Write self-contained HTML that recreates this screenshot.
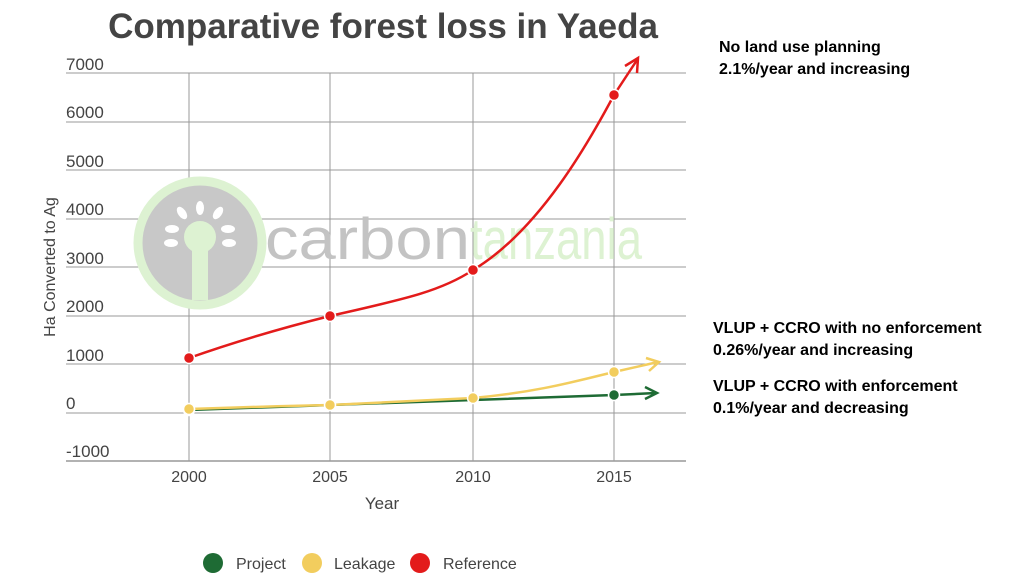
<!DOCTYPE html>
<html><head><style>
body{margin:0;width:1024px;height:576px;background:#fff;overflow:hidden;position:relative;font-family:"Liberation Sans",sans-serif}
.r{position:absolute;font-weight:bold;font-size:16px;color:#000;line-height:22px}
</style></head><body>
<svg width="1024" height="576" style="position:absolute;left:0;top:0">
<text x="383" y="38" text-anchor="middle" font-size="35" font-weight="bold" fill="#444" font-family="Liberation Sans">Comparative forest loss in Yaeda</text>
<g stroke="#999" stroke-width="1">
<line x1="66" y1="73" x2="686" y2="73"/><line x1="66" y1="122" x2="686" y2="122"/>
<line x1="66" y1="170" x2="686" y2="170"/><line x1="66" y1="219" x2="686" y2="219"/>
<line x1="66" y1="267" x2="686" y2="267"/><line x1="66" y1="316" x2="686" y2="316"/>
<line x1="66" y1="364" x2="686" y2="364"/><line x1="66" y1="413" x2="686" y2="413"/>
<line x1="66" y1="461" x2="686" y2="461" stroke="#666"/>
<line x1="189" y1="73" x2="189" y2="461"/><line x1="330" y1="73" x2="330" y2="461"/>
<line x1="473" y1="73" x2="473" y2="461"/><line x1="614" y1="73" x2="614" y2="461"/>
</g>
<circle cx="200" cy="243" r="62" fill="#c8c8c8" stroke="#ddf2d2" stroke-width="9"/>
<circle cx="200" cy="237" r="16" fill="#ddf2d2"/>
<rect x="192" y="240" width="16" height="60" fill="#ddf2d2"/>
<g fill="#fff"><ellipse cx="200" cy="208" rx="4" ry="7"/><ellipse cx="182" cy="213" rx="4" ry="7" transform="rotate(-35 182 213)"/><ellipse cx="218" cy="213" rx="4" ry="7" transform="rotate(35 218 213)"/><ellipse cx="172" cy="229" rx="7" ry="4"/><ellipse cx="228" cy="229" rx="7" ry="4"/><ellipse cx="171" cy="243" rx="7" ry="4"/><ellipse cx="229" cy="243" rx="7" ry="4"/></g>
<text x="265" y="259" font-size="58" fill="#c3c3c3" font-family="Liberation Sans" textLength="205" lengthAdjust="spacingAndGlyphs">carbon</text>
<text x="470" y="259" font-size="58" fill="#ddf2d2" font-family="Liberation Sans" textLength="172" lengthAdjust="spacingAndGlyphs">tanzania</text>
<g font-size="17" fill="#444">
<text x="66" y="70">7000</text><text x="66" y="118">6000</text><text x="66" y="167">5000</text>
<text x="66" y="215">4000</text><text x="66" y="264">3000</text><text x="66" y="312">2000</text>
<text x="66" y="361">1000</text><text x="66" y="409">0</text><text x="66" y="457">-1000</text>
</g>
<g font-size="16" fill="#444" text-anchor="middle">
<text x="189" y="482">2000</text><text x="330" y="482">2005</text><text x="473" y="482">2010</text><text x="614" y="482">2015</text>
<text x="382" y="509" font-size="17">Year</text>
</g>
<text transform="translate(55,267) rotate(-90)" font-size="16" fill="#444" text-anchor="middle">Ha Converted to Ag</text>
<path d="M189 410 L330 405 L473 400 L614 395 L656 393" stroke="#1e6b34" stroke-width="2.5" fill="none"/>
<path d="M645 387 L657 393 L645 399" stroke="#1e6b34" stroke-width="2.5" fill="none"/>
<path d="M189 409 C250 407 280 406 330 405 C400 402 440 400 473 398 C540 392 580 380 614 372 L658 362" stroke="#f2cd5e" stroke-width="2.5" fill="none"/>
<path d="M646 358 L659 362 L649 371" stroke="#f2cd5e" stroke-width="2.5" fill="none"/>
<path d="M189 358 C240 340 290 326 330 316 C400 300 440 292 473 270 C540 230 590 140 614 95 L637 60" stroke="#e31b1b" stroke-width="2.5" fill="none"/>
<path d="M625 66 L638 58 L637 73" stroke="#e31b1b" stroke-width="2.5" fill="none"/>
<g stroke="#fff" stroke-width="1.5">
<circle cx="189" cy="410" r="5.5" fill="#1e6b34"/><circle cx="189" cy="409" r="5.5" fill="#f2cd5e"/>
<circle cx="330" cy="405" r="5.5" fill="#f2cd5e"/><circle cx="473" cy="398" r="5.5" fill="#f2cd5e"/>
<circle cx="614" cy="395" r="5.5" fill="#1e6b34"/><circle cx="614" cy="372" r="5.5" fill="#f2cd5e"/>
<circle cx="189" cy="358" r="5.5" fill="#e31b1b"/><circle cx="330" cy="316" r="5.5" fill="#e31b1b"/>
<circle cx="473" cy="270" r="5.5" fill="#e31b1b"/><circle cx="614" cy="95" r="5.5" fill="#e31b1b"/>
</g>
<circle cx="213" cy="563" r="10" fill="#1e6b34"/><text x="236" y="569" font-size="16" fill="#444">Project</text>
<circle cx="312" cy="563" r="10" fill="#f2cd5e"/><text x="334" y="569" font-size="16" fill="#444">Leakage</text>
<circle cx="420" cy="563" r="10" fill="#e31b1b"/><text x="443" y="569" font-size="16" fill="#444">Reference</text>
</svg>
<div class="r" style="left:719px;top:37px">No land use planning<br>2.1%/year and increasing</div>
<div class="r" style="left:713px;top:318px">VLUP + CCRO with no enforcement<br>0.26%/year and increasing</div>
<div class="r" style="left:713px;top:376px">VLUP + CCRO with enforcement<br>0.1%/year and decreasing</div>
</body></html>
